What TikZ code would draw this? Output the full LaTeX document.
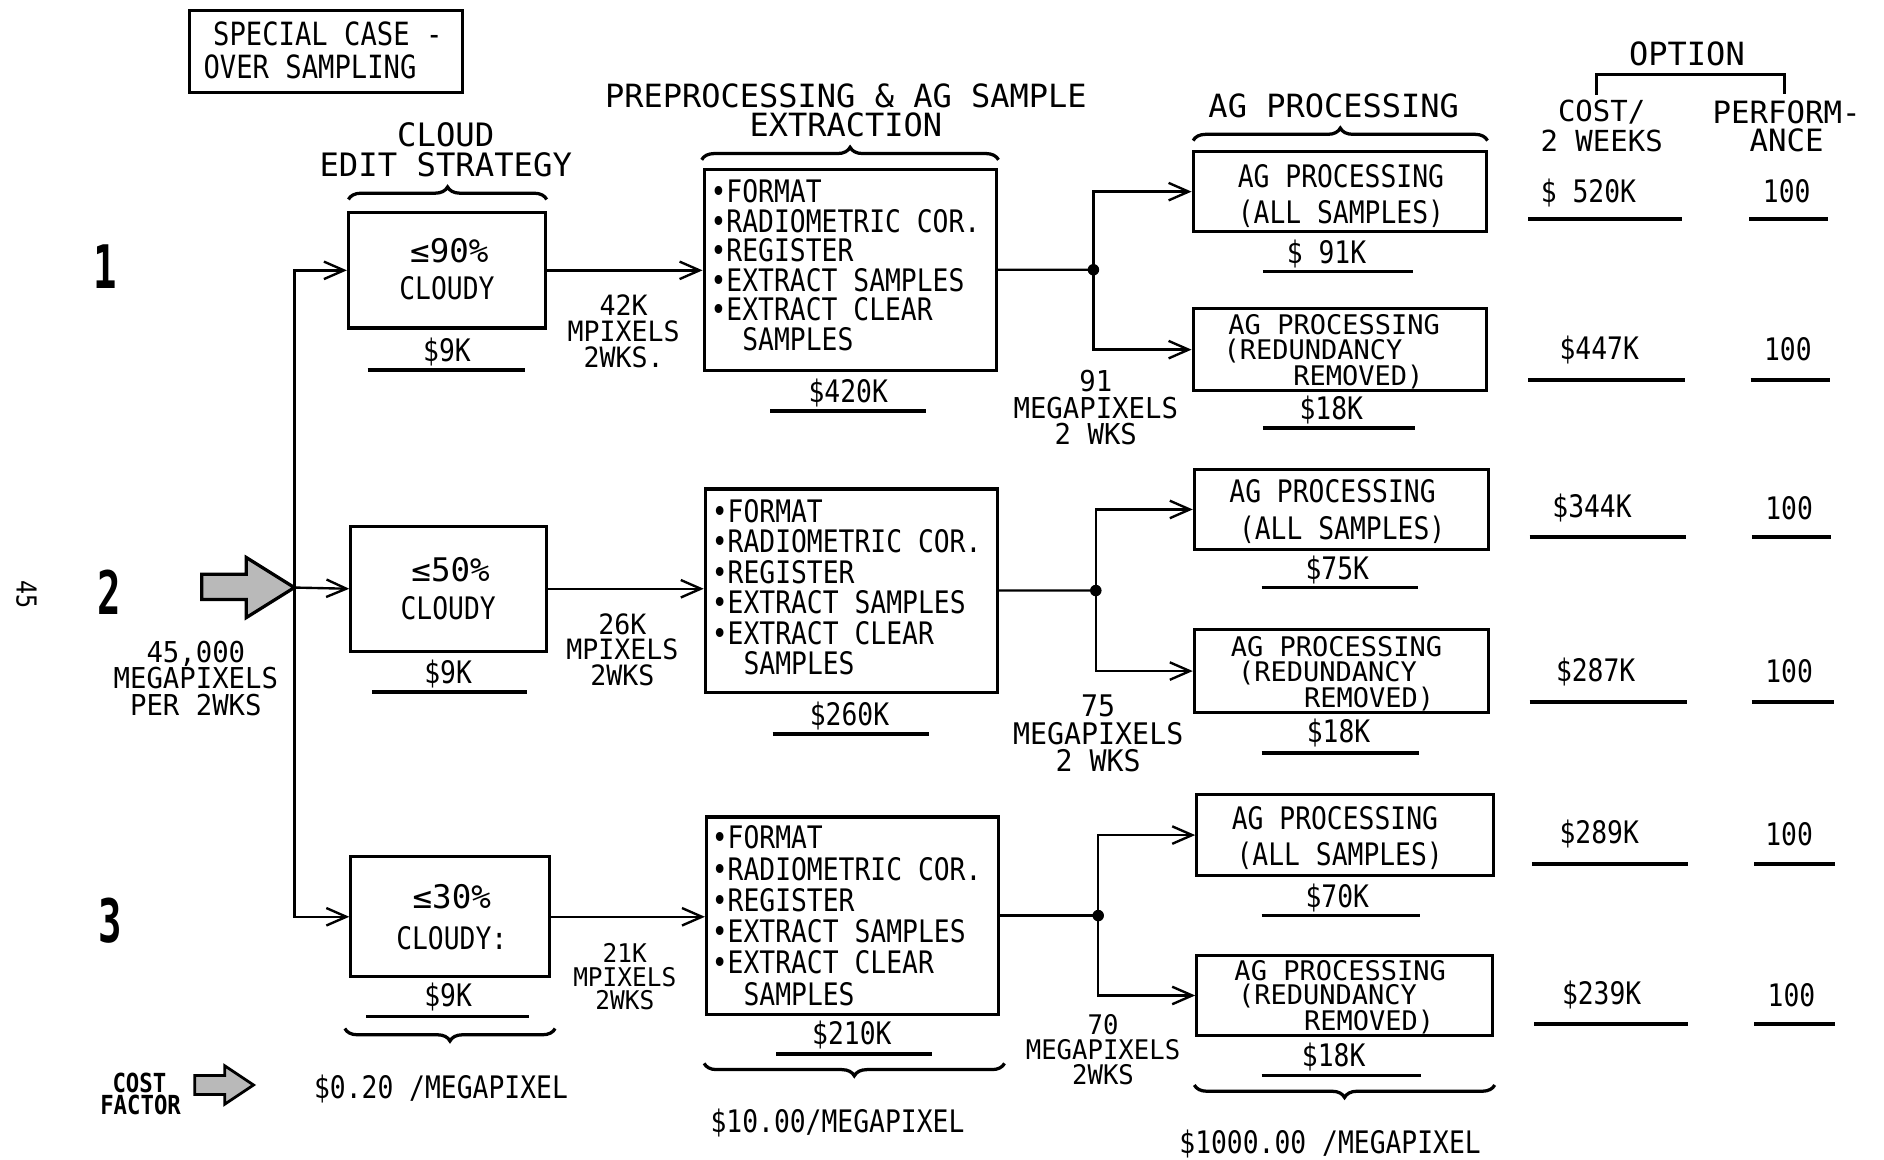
\documentclass[tikz,border=0pt]{standalone}
\usepackage{fontspec}
\usetikzlibrary{arrows.meta,decorations.pathreplacing,fit}
\newfontfamily\lt[FakeStretch=0.85]{DejaVu Sans Mono}
\newfontfamily\mt[FakeStretch=0.95]{DejaVu Sans Mono}
\newfontfamily\hd{DejaVu Sans Mono}
\newfontfamily\numf[FakeStretch=0.65]{DejaVu Sans Mono}
\newcommand\fs[2]{\fontsize{#1}{#2}\selectfont\lineskiplimit=-30pt\lineskip=0pt}
\begin{document}
\begin{tikzpicture}[x=0.4806pt,y=-0.4806pt,
  txt/.style={inner sep=0pt, font=\lt\fs{12.4}{12}},
  red/.style={inner sep=0pt, anchor=west, font=\hd\fs{10.8}{10}},
  pct/.style={inner sep=0pt, font=\hd\fs{13}{12}},
  hdr/.style={inner sep=0pt, font=\hd\fs{12.8}{12}},
  ml/.style={inner sep=0pt, align=center, anchor=north},
  box/.style={draw, line width=1.25pt, inner sep=0pt},
  conn/.style={line width=0.95pt},
  arr/.style={conn, -{Straight Barb[length=8pt,width=7pt]}},
  uline/.style={line width=1.5pt},
  brc/.style={decorate, decoration={brace, amplitude=5pt, aspect=0.5}, line width=1.3pt},
  dot/.style={circle, fill, inner sep=0pt, minimum size=4.6pt},
  big/.style={inner sep=0pt, font=\numf\bfseries\fs{24}{24}},
]
\fill[white] (0,0) rectangle (1568,965);
\useasboundingbox (0,0) rectangle (1568,965);

% special case
\node[box, fit={(158,9) (385,77)}] (sc) {};
\node[txt, anchor=west, font=\lt\fs{12.8}{12}] (sc1) at (177,28) {SPECIAL CASE -};
\node[txt, anchor=west, font=\lt\fs{12.8}{12}] (sc2) at (169,56) {OVER SAMPLING};

% option numbers
\node[big] (n1) at (88,222) {1};
\node[big] (n2) at (91,493) {2};
\node[big] (n3) at (92,766) {3};
\node[txt, rotate=-90, font=\lt\fs{11}{11}] (pg) at (22,495) {45};

% input arrow
\draw[line width=1.3pt, fill=gray!55] (168,478) -- (205,478) -- (205,464) -- (245,489) -- (205,514) -- (205,499) -- (168,499) -- cycle;
\coordinate (t2) at (245,489);
\node[ml, font=\mt\fs{11.5}{10.6}] (inp) at (163,533) {45,000\\MEGAPIXELS\\PER 2WKS};

% headers
\node[ml, font=\hd\fs{12.9}{12}] (h1) at (371,101.5) {CLOUD\\EDIT STRATEGY};
\node[ml, font=\hd\fs{12.8}{11.5}] (h2) at (704,69.5) {PREPROCESSING \& AG SAMPLE\\EXTRACTION};
\node[hdr] (h3) at (1110,88) {AG PROCESSING};
\node[hdr] (h4) at (1404,45) {OPTION};
\node[ml, font=\hd\fs{11.6}{12}] (h5) at (1333,83) {COST/\\2 WEEKS};
\node[ml, font=\hd\fs{12.3}{11.5}] (h6) at (1487,83) {PERFORM-\\ANCE};
\draw[line width=1.3pt] (1329,79) -- (1329,62) -- (1485,62) -- (1485,78);

% braces
\draw[brc] (290,166) -- (455,166);
\draw[brc] (584,133) -- (831,133);
\draw[brc] (993,117) -- (1238,117);
\draw[brc] (462,856) -- (287,856);
\draw[brc] (836,885) -- (586,885);
\draw[brc] (1244,903) -- (994,903);

% cloud edit boxes
\node[box, fit={(290,177) (454,273)}] (c1) {};
\node[box, fit={(292,438) (455,542)}] (c2) {};
\node[box, fit={(292,713) (457,813)}] (c3) {};
\node[pct] (c1a) at (374,209) {≤90\%};
\node[txt] (c1b) at (372,240) {CLOUDY};
\node[pct] (c2a) at (375,474) {≤50\%};
\node[txt] (c2b) at (373,506) {CLOUDY};
\node[pct] (c3a) at (376,746) {≤30\%};
\node[txt] (c3b) at (376,781) {CLOUDY:};
\node[txt] (c1c) at (372,293) {\$9K};
\node[txt] (c2c) at (373,561) {\$9K};
\node[txt] (c3c) at (373,830) {\$9K};
\draw[uline] (306,308) -- (437,308);
\draw[uline] (310,576) -- (439,576);
\draw[uline] (305,846) -- (440,846);

\draw[arr] (t2) |- (c1.west);
\draw[arr] (t2) -- (c2.west);
\draw[arr] (t2) |- (c3.west);

% preprocessing boxes
\node[box, fit={(586,141) (829,308)}] (p1) {};
\node[box, fit={(587,407) (830,576)}] (p2) {};
\node[box, fit={(588,680) (831,844)}] (p3) {};
\node[inner sep=0pt, align=left, anchor=north west, font=\lt\fs{12.4}{11.8}] (p1t) at (591,149)
  {•FORMAT\\•RADIOMETRIC COR.\\•REGISTER\\•EXTRACT SAMPLES\\•EXTRACT CLEAR\\~~SAMPLES};
\node[inner sep=0pt, align=left, anchor=north west, font=\lt\fs{12.4}{12.2}] (p2t) at (592,415)
  {•FORMAT\\•RADIOMETRIC COR.\\•REGISTER\\•EXTRACT SAMPLES\\•EXTRACT CLEAR\\~~SAMPLES};
\node[inner sep=0pt, align=left, anchor=north west, font=\lt\fs{12.4}{12.5}] (p3t) at (592,687)
  {•FORMAT\\•RADIOMETRIC COR.\\•REGISTER\\•EXTRACT SAMPLES\\•EXTRACT CLEAR\\~~SAMPLES};
\node[txt] (p1c) at (706,327) {\$420K};
\node[txt] (p2c) at (707,596) {\$260K};
\node[txt] (p3c) at (709,861) {\$210K};
\draw[uline] (641,342) -- (771,342);
\draw[uline] (643,611) -- (773,611);
\draw[uline] (646,877) -- (776,877);

\draw[arr] (c1.east) -- (c1.east -| p1.west);
\draw[arr] (c2.east) -- (c2.east -| p2.west);
\draw[arr] (c3.east) -- (c3.east -| p3.west);
\node[ml, font=\mt\fs{11.2}{10.3}] (l1) at (519,245) {42K\\MPIXELS\\2WKS.};
\node[ml, font=\mt\fs{11.2}{10.3}] (l2) at (518,510) {26K\\MPIXELS\\2WKS};
\node[ml, font=\mt\fs{10.3}{9.4}] (l3) at (520,785) {21K\\MPIXELS\\2WKS};

% AG boxes
\node[box, fit={(993,126) (1237,193)}] (a1a) {};
\node[box, fit={(993,257) (1237,325)}] (a1b) {};
\node[box, fit={(994,391) (1239,457)}] (a2a) {};
\node[box, fit={(994,524) (1239,593)}] (a2b) {};
\node[box, fit={(996,661) (1243,729)}] (a3a) {};
\node[box, fit={(996,795) (1242,862)}] (a3b) {};

\node[txt] (a1a1) at (1116,147) {AG PROCESSING};
\node[txt] (a1a2) at (1116,178) {(ALL SAMPLES)};
\node[red] (a1b1) at (1022,270.5) {AG PROCESSING};
\node[red] (a1b2) at (1018,292) {(REDUNDANCY};
\node[red] (a1b3) at (1076,313.5) {REMOVED)};
\node[txt] (a2a1) at (1109,409) {AG PROCESSING};
\node[txt] (a2a2) at (1117,441) {(ALL SAMPLES)};
\node[red] (a2b1) at (1024,538.5) {AG PROCESSING};
\node[red] (a2b2) at (1030,560) {(REDUNDANCY};
\node[red] (a2b3) at (1085,581.5) {REMOVED)};
\node[txt] (a3a1) at (1111,681) {AG PROCESSING};
\node[txt] (a3a2) at (1115,712) {(ALL SAMPLES)};
\node[red] (a3b1) at (1027,807.5) {AG PROCESSING};
\node[red] (a3b2) at (1030,829) {(REDUNDANCY};
\node[red] (a3b3) at (1085,850.5) {REMOVED)};

\node[txt] (a1ac) at (1104,211) {\$ 91K};
\node[txt] (a1bc) at (1108,341) {\$18K};
\node[txt] (a2ac) at (1113,474) {\$75K};
\node[txt] (a2bc) at (1114,610) {\$18K};
\node[txt] (a3ac) at (1113,747) {\$70K};
\node[txt] (a3bc) at (1110,880) {\$18K};
\draw[uline] (1051,226) -- (1176,226);
\draw[uline] (1051,356) -- (1178,356);
\draw[uline] (1050,489) -- (1180,489);
\draw[uline] (1050,627) -- (1181,627);
\draw[uline] (1050,762) -- (1182,762);
\draw[uline] (1050,895) -- (1183,895);

% junctions
\node[dot] (j1) at (910,224.5) {};
\node[dot] (j2) at (912,491.5) {};
\node[dot] (j3) at (914,762) {};
\draw[conn] (p1.east) -- (j1.center);
\draw[conn] (p2.east) -- (j2.center);
\draw[conn] (p3.east) -- (j3.center);
\draw[arr] (j1.center) |- (a1a.west);
\draw[arr] (j1.center) |- (a1b.west);
\draw[arr] (j2.center) |- (a2a.west);
\draw[arr] (j2.center) |- (a2b.west);
\draw[arr] (j3.center) |- (a3a.west);
\draw[arr] (j3.center) |- (a3b.west);
\node[ml, font=\mt\fs{11.5}{10.6}] (m1) at (912,308) {91\\MEGAPIXELS\\2 WKS};
\node[ml, font=\mt\fs{11.9}{11}] (m2) at (914,578) {75\\MEGAPIXELS\\2 WKS};
\node[ml, font=\mt\fs{10.8}{9.9}] (m3) at (918,844) {70\\MEGAPIXELS\\2WKS};

% option results
\node[txt] (r1) at (1322,161) {\$ 520K};
\node[txt] (r2) at (1331,291) {\$447K};
\node[txt] (r3) at (1325,423) {\$344K};
\node[txt] (r4) at (1328,559) {\$287K};
\node[txt] (r5) at (1331,694) {\$289K};
\node[txt] (r6) at (1333,828) {\$239K};
\node[txt] (q1) at (1487,159) {100};
\node[txt] (q2) at (1488,291) {100};
\node[txt] (q3) at (1489,423) {100};
\node[txt] (q4) at (1489,559) {100};
\node[txt] (q5) at (1489,694) {100};
\node[txt] (q6) at (1491,828) {100};
\draw[uline] (1272,182) -- (1400,182);
\draw[uline] (1456,182) -- (1521,182);
\draw[uline] (1272,316) -- (1402,316);
\draw[uline] (1457,316) -- (1523,316);
\draw[uline] (1273,447) -- (1403,447);
\draw[uline] (1458,447) -- (1524,447);
\draw[uline] (1273,584) -- (1404,584);
\draw[uline] (1458,584) -- (1526,584);
\draw[uline] (1275,719) -- (1405,719);
\draw[uline] (1460,719) -- (1527,719);
\draw[uline] (1277,852) -- (1405,852);
\draw[uline] (1460,852) -- (1527,852);

% cost factor
\node[inner sep=0pt, font=\lt\bfseries\fs{10.5}{10}] (cf1) at (116,901) {COST};
\node[inner sep=0pt, font=\lt\bfseries\fs{10.5}{10}] (cf2) at (117,920) {FACTOR};
\draw[line width=1.1pt, fill=gray!55] (162,895) -- (187,895) -- (187,887) -- (211,903) -- (187,919) -- (187,911) -- (162,911) -- cycle;
\node[txt] (k1) at (367,906) {\$0.20 /MEGAPIXEL};
\node[txt] (k2) at (697,935) {\$10.00/MEGAPIXEL};
\node[txt] (k3) at (1107,952) {\$1000.00 /MEGAPIXEL};
\end{tikzpicture}
\end{document}
